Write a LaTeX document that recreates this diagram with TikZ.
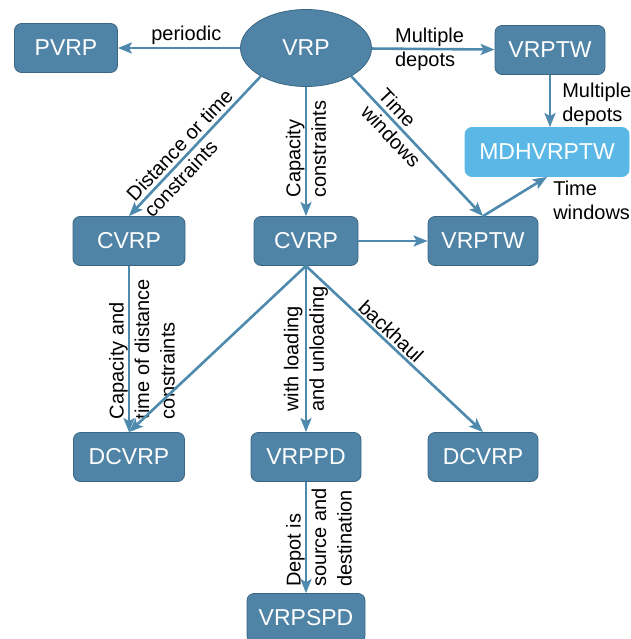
\documentclass[tikz,border=0pt]{standalone}
\usepackage{fontspec}
\setmainfont{Liberation Sans}
\usetikzlibrary{arrows.meta,shapes.geometric}
\definecolor{boxfill}{RGB}{80,132,166}
\definecolor{boxline}{RGB}{58,102,132}
\definecolor{skyfill}{RGB}{91,184,230}
\definecolor{linkcol}{RGB}{78,137,174}
\begin{document}
\begin{tikzpicture}[x=1pt,y=-1pt,
  box/.style={rectangle,rounded corners=7pt,fill=boxfill,draw=boxline,line width=0.8pt,text=white,inner sep=0pt,minimum height=49pt,font=\fontsize{23}{27}\selectfont},
  hub/.style={ellipse,fill=boxfill,draw=boxline,line width=0.8pt,text=white,inner sep=0pt,minimum width=131pt,minimum height=77pt,font=\fontsize{23}{27}\selectfont},
  link/.style={draw=linkcol,line width=2.6pt,-{Stealth[length=14pt,width=11pt,inset=3pt]}},
  lbl/.style={inner sep=1pt,text=black,align=left,font=\fontsize{20}{24}\selectfont},
  tall/.style={lbl,font=\fontsize{20}{25.5}\selectfont}]
\path[use as bounding box] (0,0) rectangle (630,639);
\node[box,minimum width=103pt] (pvrp) at (66,48) {PVRP};
\node[hub] (vrp) at (306,48) {VRP};
\node[box,minimum width=110pt] (vrptwtop) at (550,50) {VRPTW};
\node[box,fill=skyfill,draw=skyfill,minimum width=164pt] (mdhvrptw) at (547,152) {MDHVRPTW};
\node[box,minimum width=112pt] (cvrpleft) at (129,241) {CVRP};
\node[box,minimum width=104pt] (cvrpmid) at (306,241) {CVRP};
\node[box,minimum width=110pt] (vrptwmid) at (483,241) {VRPTW};
\node[box,minimum width=111pt] (dcvrpleft) at (129,457) {DCVRP};
\node[box,minimum width=110pt] (vrppd) at (306,457) {VRPPD};
\node[box,minimum width=110pt] (dcvrpright) at (483,457) {DCVRP};
\node[box,minimum width=118pt] (vrpspd) at (306,618) {VRPSPD};
\draw[link] (vrp) -- node[lbl,above=1pt,pos=0.44] {periodic} (pvrp);
\draw[link] (vrp) -- node[lbl,pos=0.47] {Multiple\\depots} (vrptwtop);
\draw[link] (vrptwtop) -- node[lbl,right,xshift=10pt,pos=0.57] {Multiple\\depots} (vrptwtop |- mdhvrptw.north);
\draw[link] (vrp.-148) -- node[lbl,sloped,pos=0.55] {Distance or time\\constraints} (cvrpleft.north);
\draw[link] (vrp) -- node[tall,rotate=90,pos=0.48] {Capacity\\constraints} (cvrpmid);
\draw[link] (vrp.-32) -- node[lbl,sloped,pos=0.37] {Time\\windows} (vrptwmid.north);
\draw[link] (cvrpmid) -- (vrptwmid);
\draw[link] (vrptwmid.north) -- node[lbl,pos=1,anchor=north west,xshift=4pt,yshift=-2pt] {Time\\windows} (mdhvrptw.south);
\draw[link] (cvrpleft) -- node[tall,xshift=13pt,rotate=90,midway] {Capacity and\\time of distance\\constraints} (dcvrpleft);
\draw[link] (cvrpmid.south) -- (dcvrpleft.north);
\draw[link] (cvrpmid) -- node[tall,rotate=90,midway] {with loading\\and unloading} (vrppd);
\draw[link] (cvrpmid.south) -- node[lbl,sloped,above=1pt,pos=0.44] {backhaul} (dcvrpright.north);
\draw[link] (vrppd) -- node[tall,xshift=13pt,rotate=90,midway] {Depot is\\source and\\destination} (vrpspd);
\end{tikzpicture}
\end{document}
